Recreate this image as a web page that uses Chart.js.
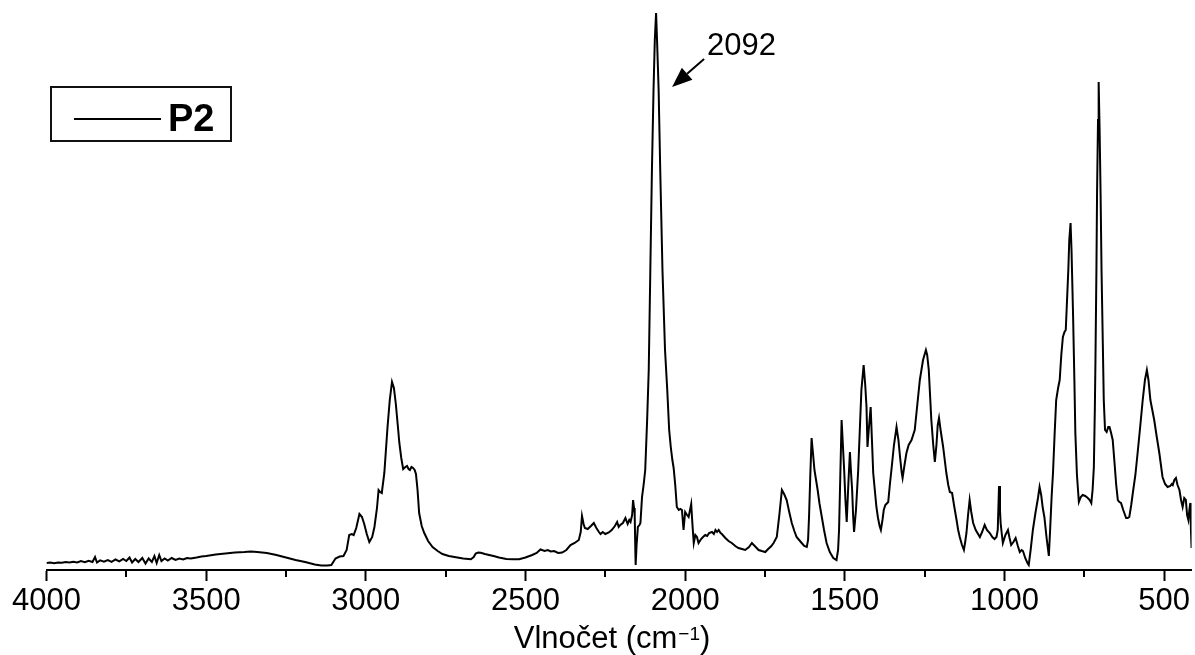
<!DOCTYPE html>
<html>
<head>
<meta charset="utf-8">
<script src="https://cdn.jsdelivr.net/npm/chart.js@4.4.0/dist/chart.umd.min.js"></script>
<style>
  html, body { margin: 0; padding: 0; background: #fff; }
</style>
</head>
<body>
<canvas id="spectrum" width="1195" height="655"></canvas>
<script>
// spektrum P2 - vlnocet (cm-1) a intenzita (libovolne jednotky)
const wavenumbers = [
  4000, 3988, 3976, 3964, 3952, 3940, 3928, 3916, 3904, 3892, 3880, 3868, 3856, 3848, 3842, 3832, 3820, 3808, 3796, 3784,
  3772, 3760, 3750, 3740, 3732, 3722, 3712, 3700, 3690, 3680, 3670, 3662, 3655, 3647, 3640, 3630, 3620, 3608, 3596, 3584,
  3572, 3560, 3548, 3530, 3515, 3500, 3470, 3440, 3410, 3380, 3360, 3340, 3310, 3280, 3250, 3220, 3190, 3160, 3140, 3120,
  3108, 3095, 3082, 3070, 3060, 3052, 3044, 3038, 3030, 3020, 3012, 3005, 2997, 2989, 2980, 2973, 2965, 2960, 2955, 2950,
  2942, 2932, 2925, 2918, 2912, 2906, 2900, 2895, 2889, 2883, 2876, 2871, 2866, 2862, 2857, 2852, 2847, 2843, 2838, 2833,
  2825, 2817, 2805, 2791, 2775, 2760, 2740, 2718, 2695, 2671, 2662, 2656, 2648, 2640, 2627, 2614, 2600, 2583, 2560, 2540,
  2520, 2500, 2479, 2465, 2453, 2440, 2430, 2421, 2410, 2398, 2385, 2372, 2359, 2346, 2333, 2327, 2323, 2318, 2314, 2305,
  2295, 2286, 2278, 2270, 2265, 2258, 2250, 2239, 2230, 2220, 2213, 2208, 2203, 2195, 2187, 2180, 2175, 2171, 2166, 2163,
  2160, 2158, 2156, 2155, 2152, 2148, 2143, 2140, 2135, 2130, 2125, 2119, 2114, 2109, 2104, 2099, 2095, 2091, 2088, 2083,
  2078, 2071, 2063, 2056, 2050, 2045, 2040, 2036, 2031, 2026, 2020, 2015, 2010, 2005, 2000, 1994, 1989, 1981, 1977, 1973,
  1968, 1963, 1958, 1950, 1944, 1937, 1931, 1925, 1916, 1910, 1905, 1900, 1895, 1889, 1885, 1874, 1864, 1854, 1843, 1833,
  1822, 1812, 1800, 1791, 1782, 1770, 1760, 1749, 1740, 1730, 1723, 1713, 1705, 1697, 1690, 1682, 1674, 1666, 1658, 1651,
  1643, 1635, 1627, 1619, 1615, 1612, 1608, 1604, 1600, 1595, 1590, 1585, 1579, 1572, 1565, 1557, 1547, 1536, 1526, 1521,
  1518, 1514, 1510, 1506, 1502, 1498, 1494, 1489, 1484, 1480, 1477, 1474, 1471, 1465, 1458, 1453, 1448, 1441, 1436, 1432,
  1429, 1425, 1419, 1415, 1411, 1406, 1401, 1396, 1391, 1387, 1382, 1378, 1373, 1364, 1359, 1354, 1346, 1338, 1332, 1327,
  1322, 1319, 1313, 1307, 1300, 1291, 1281, 1273, 1265, 1255, 1246, 1242, 1237, 1233, 1229, 1223, 1218, 1213, 1209, 1205,
  1200, 1192, 1187, 1182, 1176, 1171, 1164, 1158, 1150, 1145, 1140, 1133, 1127, 1123, 1119, 1114, 1109, 1104, 1098, 1090,
  1077, 1070, 1062, 1055, 1046, 1038, 1031, 1025, 1021, 1017, 1014, 1012, 1008, 1005, 997, 989, 984, 979, 972, 965,
  958, 952, 946, 942, 935, 928, 924, 918, 911, 903, 895, 890, 885, 880, 875, 868, 861, 857, 852, 848,
  843, 838, 832, 827, 822, 817, 812, 808, 804, 800, 797, 793, 790, 787, 785, 781, 778, 773, 767, 761,
  755, 747, 739, 733, 728, 724, 720, 717, 715, 712, 710, 707, 705, 702, 699, 696, 692, 689, 685, 680,
  675, 671, 666, 661, 656, 650, 645, 640, 635, 628, 619, 614, 609, 603, 598, 590, 583, 575, 567, 560,
  554, 549, 543, 537, 531, 523, 515, 510, 505, 497, 489, 481, 476, 473, 468, 463, 458, 452, 447, 442,
  437, 432, 428, 424, 421, 418, 416, 414
];
const intensity = [
  7, 7.5, 6.8, 7.6, 7.2, 8, 7.4, 8.2, 7.6, 9, 7.8, 9.2, 8, 13, 7.5, 9.6, 8.4, 10, 8.2, 10.5,
  8.6, 11, 9, 12.5, 7.5, 11, 8, 12, 6.5, 11.5, 8, 14, 7, 15, 9, 11.5, 9.5, 12, 10, 11.5,
  10.5, 12, 11.5, 12.5, 13.5, 14, 15.5, 16.5, 17.5, 18, 18.5, 18, 17, 15, 12.5, 10, 8, 5.5, 4.5, 4.5,
  5, 11.5, 13.5, 14, 20, 35, 36, 35, 42, 56, 53, 46, 36, 28, 33, 43, 62, 80, 78, 77,
  97, 143, 170, 188, 182, 166, 145, 127, 112, 101, 103, 104, 101, 100, 103, 102, 100, 96, 80, 57,
  44, 37, 29, 23, 19, 16, 14, 12.7, 11.5, 10.7, 13, 16.5, 17.5, 17.3, 16, 15, 14, 12.5, 11, 10.7,
  10.7, 12.5, 15, 17, 20.5, 19, 20, 18.5, 19, 17, 17.5, 20, 25, 27, 30, 38, 54, 46, 42, 41,
  44, 47, 42, 38, 36, 38, 36, 37.5, 40, 44, 48, 43, 45, 47, 52, 46, 50, 48, 55, 70,
  62, 56, 20, 5, 25, 43, 45, 47, 73, 85, 100, 150, 200, 300, 400, 480, 530, 557, 530, 480,
  400, 300, 220, 180, 140, 123, 110, 102, 85, 63, 60, 61, 60, 40, 58, 55, 53, 66, 45, 27,
  35, 33, 27, 31, 33, 35, 34, 37, 38, 36, 40, 38, 40, 37, 36, 32, 29, 27, 24, 22,
  21, 20, 23, 27, 24, 20, 19, 18, 21, 24, 27, 33, 55, 80, 76, 70, 58, 47, 39, 33,
  30, 27, 24, 23, 30, 53, 95, 132, 118, 100, 90, 80, 66, 53, 40, 27, 18, 12, 10, 20,
  40, 95, 150, 125, 100, 70, 48, 85, 118, 95, 80, 55, 38, 60, 100, 140, 180, 205, 185, 163,
  123, 140, 163, 130, 97, 80, 63, 52, 44, 40, 50, 60, 65, 68, 85, 100, 125, 143, 130, 113,
  98, 92, 105, 117, 125, 130, 140, 165, 190, 210, 220, 215, 200, 175, 150, 125, 108, 125, 145, 152,
  140, 123, 110, 97, 85, 78, 77, 65, 50, 40, 33, 25, 20, 28, 37, 55, 70, 58, 47, 40,
  33, 38, 45, 40, 37, 33, 31, 33, 40, 84, 60, 47, 35, 27, 35, 40, 32, 25, 28, 32,
  24, 18, 20, 19, 12, 7, 5, 20, 40, 57, 72, 83, 75, 62, 53, 32, 14, 40, 75, 97,
  135, 170, 182, 190, 215, 233, 238, 240, 270, 300, 330, 347, 320, 280, 253, 190, 137, 95, 68, 73,
  75, 74, 72, 70, 67, 80, 103, 160, 210, 300, 377, 450, 488, 440, 377, 300, 227, 170, 140, 138,
  143, 143, 137, 130, 110, 85, 70, 68, 67, 60, 52, 52, 53, 65, 77, 95, 117, 143, 170, 190,
  200, 190, 170, 160, 150, 133, 117, 105, 93, 86, 83, 84, 86, 85, 90, 92, 85, 80, 70, 63,
  72, 70, 55, 50, 60, 67, 40, 22
];

const xTicks = [4000, 3500, 3000, 2500, 2000, 1500, 1000, 500];
const xMinorTicks = [3750, 3250, 2750, 2250, 1750, 1250, 750];
const seriesName = 'P2';
const peakLabel = '2092';
const peakWavenumber = 2091;
const peakIntensity = 557;

const FONT = "'Liberation Sans', Arial, Helvetica, sans-serif";

// popisky, legenda, vedlejsi znacky osy
const decorPlugin = {
  id: 'decor',
  afterDraw(chart) {
    const ctx = chart.ctx;
    const xs = chart.scales.x;
    const ys = chart.scales.y;
    const area = chart.chartArea;
    ctx.save();

    // vedlejsi znacky
    ctx.strokeStyle = '#000';
    ctx.lineWidth = 2;
    xMinorTicks.forEach(v => {
      const px = Math.round(xs.getPixelForValue(v));
      ctx.beginPath();
      ctx.moveTo(px, area.bottom);
      ctx.lineTo(px, area.bottom + 7);
      ctx.stroke();
    });

    // nazev osy x s hornim indexem
    ctx.fillStyle = '#000';
    ctx.textBaseline = 'alphabetic';
    ctx.textAlign = 'left';
    const mainFont = '31px ' + FONT;
    const supFont = '19px ' + FONT;
    const part1 = 'Vlnočet (cm', sup = '\u22121', part2 = ')';
    ctx.font = mainFont;
    const w1 = ctx.measureText(part1).width;
    const w3 = ctx.measureText(part2).width;
    ctx.font = supFont;
    const w2 = ctx.measureText(sup).width;
    const total = w1 + w2 + w3 + 1;
    const tx = (area.left + area.right) / 2 - 7 - total / 2;
    const base = 648;
    ctx.font = mainFont;
    ctx.fillText(part1, tx, base);
    ctx.font = supFont;
    ctx.fillText(sup, tx + w1 + 1, base - 8);
    ctx.font = mainFont;
    ctx.fillText(part2, tx + w1 + w2 + 1, base);

    // legenda
    ctx.lineWidth = 2;
    ctx.strokeStyle = '#111';
    ctx.strokeRect(51, 87, 180, 54);
    ctx.beginPath();
    ctx.lineWidth = 2;
    ctx.strokeStyle = '#000';
    ctx.moveTo(74, 119);
    ctx.lineTo(161, 119);
    ctx.stroke();
    ctx.font = 'bold 38px ' + FONT;
    ctx.fillText(chart.data.datasets[0].label, 168, 131);

    // sipka k piku 2092
    const pkx = xs.getPixelForValue(peakWavenumber);
    const pky = ys.getPixelForValue(peakIntensity);
    const tipX = pkx + 16, tipY = pky + 74;
    const tailX = pkx + 48, tailY = pky + 46;
    const ang = Math.atan2(tipY - tailY, tipX - tailX);
    const headLen = 20, headW = 8;
    const bx = tipX - headLen * Math.cos(ang), by = tipY - headLen * Math.sin(ang);
    ctx.beginPath();
    ctx.lineWidth = 2;
    ctx.moveTo(tailX, tailY);
    ctx.lineTo(bx, by);
    ctx.stroke();
    ctx.beginPath();
    ctx.moveTo(tipX, tipY);
    ctx.lineTo(bx + headW * Math.sin(ang), by - headW * Math.cos(ang));
    ctx.lineTo(bx - headW * Math.sin(ang), by + headW * Math.cos(ang));
    ctx.closePath();
    ctx.fill();
    ctx.font = '31px ' + FONT;
    ctx.fillText(peakLabel, pkx + 51, pky + 42);

    ctx.restore();
  }
};

const ctx = document.getElementById('spectrum').getContext('2d');
new Chart(ctx, {
  type: 'line',
  data: {
    datasets: [{
      label: seriesName,
      data: wavenumbers.map((w, i) => ({ x: w, y: intensity[i] })),
      borderColor: '#000',
      borderWidth: 2,
      pointRadius: 0,
      tension: 0,
      fill: false
    }]
  },
  options: {
    responsive: false,
    animation: false,
    layout: { padding: { left: 46.5, right: 1, top: 0, bottom: 0 } },
    plugins: {
      legend: { display: false },
      tooltip: { enabled: false }
    },
    scales: {
      x: {
        type: 'linear',
        reverse: true,
        min: 414,
        max: 4000,
        afterBuildTicks: s => { s.ticks = xTicks.map(v => ({ value: v })); },
        afterFit: s => { s.height = 85; },
        grid: { drawOnChartArea: false, drawTicks: true, tickLength: 11, tickWidth: 2, tickColor: '#000' },
        border: { display: true, color: '#000', width: 2 },
        ticks: {
          color: '#000',
          font: { family: FONT, size: 31, lineHeight: 1 },
          padding: 5,
          maxRotation: 0,
          autoSkip: false,
          callback: v => String(v)
        }
      },
      y: { display: false, min: 0, max: 570 }
    }
  },
  plugins: [decorPlugin]
});
</script>
</body>
</html>
